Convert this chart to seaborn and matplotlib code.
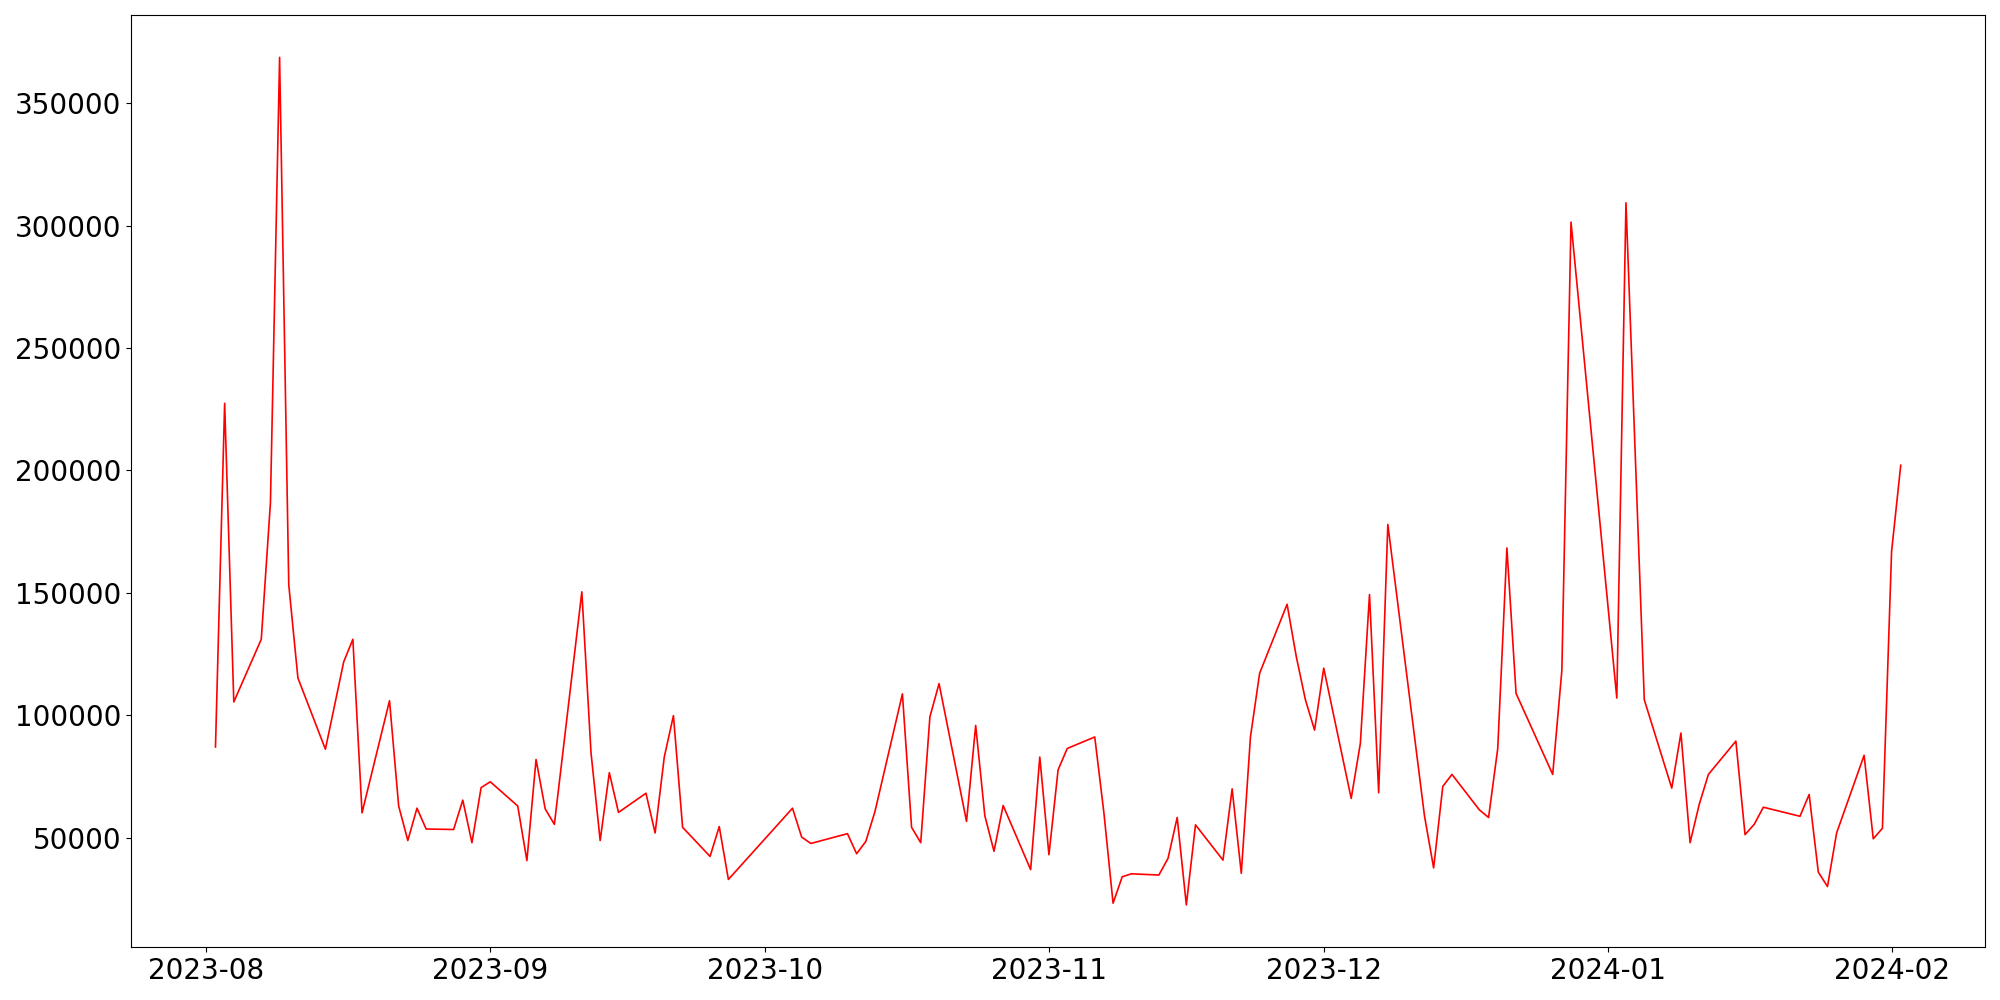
import matplotlib
matplotlib.use("Agg")
import matplotlib.pyplot as plt
import pandas as pd
import seaborn as sns

# trading days (Aug 2023 - Feb 2024)
dates = [
    "2023-08-02", "2023-08-03", "2023-08-04", "2023-08-07", "2023-08-08", "2023-08-09",
    "2023-08-10", "2023-08-11", "2023-08-14", "2023-08-16", "2023-08-17", "2023-08-18",
    "2023-08-21", "2023-08-22", "2023-08-23", "2023-08-24", "2023-08-25", "2023-08-28",
    "2023-08-29", "2023-08-30", "2023-08-31", "2023-09-01", "2023-09-04", "2023-09-05",
    "2023-09-06", "2023-09-07", "2023-09-08", "2023-09-11", "2023-09-12", "2023-09-13",
    "2023-09-14", "2023-09-15", "2023-09-18", "2023-09-19", "2023-09-20", "2023-09-21",
    "2023-09-22", "2023-09-25", "2023-09-26", "2023-09-27", "2023-10-04", "2023-10-05",
    "2023-10-06", "2023-10-10", "2023-10-11", "2023-10-12", "2023-10-13", "2023-10-16",
    "2023-10-17", "2023-10-18", "2023-10-19", "2023-10-20", "2023-10-23", "2023-10-24",
    "2023-10-25", "2023-10-26", "2023-10-27", "2023-10-30", "2023-10-31", "2023-11-01",
    "2023-11-02", "2023-11-03", "2023-11-06", "2023-11-07", "2023-11-08", "2023-11-09",
    "2023-11-10", "2023-11-13", "2023-11-14", "2023-11-15", "2023-11-16", "2023-11-17",
    "2023-11-20", "2023-11-21", "2023-11-22", "2023-11-23", "2023-11-24", "2023-11-27",
    "2023-11-28", "2023-11-29", "2023-11-30", "2023-12-01", "2023-12-04", "2023-12-05",
    "2023-12-06", "2023-12-07", "2023-12-08", "2023-12-12", "2023-12-13", "2023-12-14",
    "2023-12-15", "2023-12-18", "2023-12-19", "2023-12-20", "2023-12-21", "2023-12-22",
    "2023-12-26", "2023-12-27", "2023-12-28", "2024-01-02", "2024-01-03", "2024-01-05",
    "2024-01-08", "2024-01-09", "2024-01-10", "2024-01-11", "2024-01-12", "2024-01-15",
    "2024-01-16", "2024-01-17", "2024-01-18", "2024-01-22", "2024-01-23", "2024-01-24",
    "2024-01-25", "2024-01-26", "2024-01-29", "2024-01-30", "2024-01-31", "2024-02-01",
    "2024-02-02",
]
values = [
    87000, 227400, 105400, 131000, 186800, 368700,
    153300, 115200, 86100, 121800, 131000, 60100,
    105900, 62900, 48800, 62000, 53500, 53300,
    65300, 47900, 70400, 72800, 62900, 40600,
    81900, 61700, 55400, 150400, 84700, 48800,
    76500, 60300, 68100, 51900, 82900, 99800,
    54200, 42300, 54500, 32900, 62000, 50200,
    47600, 51600, 43400, 48400, 60600, 108700,
    54200, 47900, 99300, 112900, 56600, 95800,
    58900, 44400, 63100, 36900, 82900, 43000,
    77700, 86400, 91100, 60100, 23200, 34000,
    35200, 34700, 41500, 58200, 22500, 55200,
    40800, 69900, 35400, 91100, 117100, 145300,
    124000, 106300, 93900, 119200, 66000, 88500,
    149300, 68300, 177900, 58900, 37600, 70900,
    75800, 61300, 58200, 86400, 168300, 108900,
    75800, 118300, 301400, 107000, 309300, 106300,
    70200, 92700, 47900, 63600, 75800, 89400,
    51200, 55400, 62400, 58700, 67600, 35900,
    30000, 51900, 83600, 49500, 53800, 166900,
    202100,
]

df = pd.DataFrame({"date": pd.to_datetime(dates), "value": values})

fig, ax = plt.subplots(figsize=(20, 10), dpi=100)
sns.lineplot(data=df, x="date", y="value", color="red", linewidth=1.2, ax=ax)
ax.set_xlabel("")
ax.set_ylabel("")
ax.tick_params(axis="both", labelsize=20)
fig.tight_layout()
fig.savefig("out.png", dpi=100)
plt.close(fig)
